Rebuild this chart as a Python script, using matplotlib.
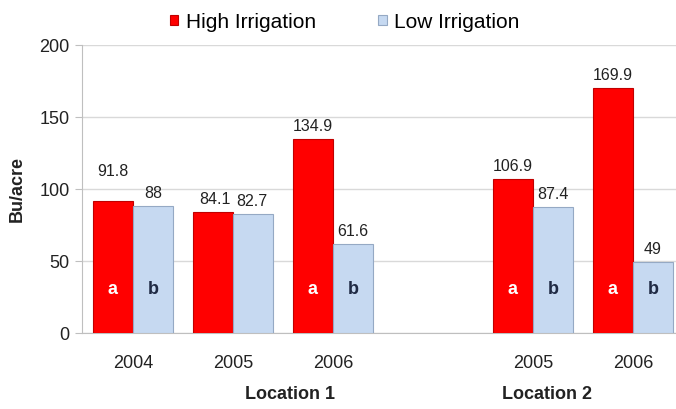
import numpy as np
import matplotlib.pyplot as plt

plt.rcParams['font.family'] = ['Liberation Sans', 'DejaVu Sans']

# Data
years = ['2004', '2005', '2006', '2005', '2006']
locations = ['Location 1', 'Location 2']
high = [91.8, 84.1, 134.9, 106.9, 169.9]
low = [88, 82.7, 61.6, 87.4, 49]
high_letters = ['a', '', 'a', 'a', 'a']
low_letters = ['b', '', 'b', 'b', 'b']

# slot positions (one empty slot between the locations)
x = np.array([0, 1, 2, 4, 5])
w = 0.4

fig = plt.figure(figsize=(6.76, 4.09), dpi=100)
ax = fig.add_axes([82 / 676, (409 - 333) / 409, (676 - 82) / 676, (333 - 45) / 409])

red = '#ff0000'
blue = '#c6d9f1'
ax.bar(x - w / 2, high, w, color=red, edgecolor='#c00000', linewidth=0.8,
       label='High Irrigation', zorder=3)
ax.bar(x + w / 2, low, w, color=blue, edgecolor='#95a9c4', linewidth=0.8,
       label='Low Irrigation', zorder=3)

ax.set_xlim(-0.51, 5.43)
ax.set_ylim(0, 200)
ax.set_yticks([0, 50, 100, 150, 200])
ax.yaxis.grid(True, color='#d9d9d9', linewidth=1)
ax.set_axisbelow(True)
ax.set_xticks(x)
ax.set_xticklabels(years, fontsize=13, color='#222222')
ax.tick_params(axis='x', length=0, pad=16)
ax.tick_params(axis='y', length=5, color='#bfbfbf', labelsize=13,
               labelcolor='#222222', pad=4)
for s in ['top', 'right']:
    ax.spines[s].set_visible(False)
for s in ['left', 'bottom']:
    ax.spines[s].set_color('#bfbfbf')

ax.set_ylabel('Bu/acre', fontsize=13, fontweight='bold', color='#222222', labelpad=10)

# value labels
for i in range(len(x)):
    dy_h = 22 if high[i] == 91.8 else 5
    ha_h, dx_h = ('right', 0.18) if i == 1 else ('center', 0)
    ha_l, dx_l = ('left', -0.17) if i == 1 else ('center', 0)
    ax.annotate(f'{high[i]:g}', (x[i] - w / 2 + dx_h, high[i]), xytext=(0, dy_h),
                textcoords='offset pixels', ha=ha_h, va='bottom', fontsize=11.5,
                color='#222222')
    ax.annotate(f'{low[i]:g}', (x[i] + w / 2 + dx_l, low[i]), xytext=(0, 5),
                textcoords='offset pixels', ha=ha_l, va='bottom', fontsize=11.5,
                color='#222222')
    ax.text(x[i] - w / 2, 30, high_letters[i], ha='center', va='center',
            fontsize=13, fontweight='bold', color='white', zorder=4)
    ax.text(x[i] + w / 2, 30, low_letters[i], ha='center', va='center',
            fontsize=13, fontweight='bold', color='#1f2a44', zorder=4)

# location labels
ax.text(1.57, -43, locations[0], ha='center', va='center', fontsize=13,
        fontweight='bold', color='#222222')
ax.text(4.14, -43, locations[1], ha='center', va='center', fontsize=13,
        fontweight='bold', color='#222222')

fig.legend(loc='center', bbox_to_anchor=(0.51, 1 - 22 / 409), ncol=2, frameon=False,
           fontsize=15, handlelength=0.4, handleheight=0.4, handletextpad=0.35,
           columnspacing=3.0)

fig.savefig('out.png', dpi=100)
